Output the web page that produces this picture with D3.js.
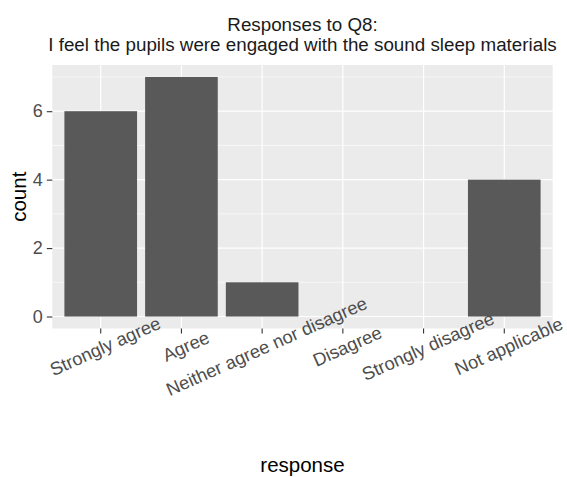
<!DOCTYPE html>
<html>
<head>
<meta charset="utf-8">
<script src="https://cdn.jsdelivr.net/npm/d3@7"></script>
<style>
  html, body { margin: 0; padding: 0; background: #fff; }
  svg { display: block; font-family: "Liberation Sans", Arial, sans-serif; }
</style>
</head>
<body>
<svg id="chart" width="567" height="477"></svg>
<script>
const categories = ["Strongly agree", "Agree", "Neither agree nor disagree", "Disagree", "Strongly disagree", "Not applicable"];
const counts = [6, 7, 1, 0, 0, 4];
const yTicks = [0, 2, 4, 6];
const yMinor = [1, 3, 5, 7];
const titleLines = ["Responses to Q8:", "I feel the pupils were engaged with the sound sleep materials"];
const xTitle = "response";
const yTitle = "count";

const svg = d3.select("#chart");
const panel = { left: 52.3, right: 552.7, top: 65, bottom: 328.5 };

// discrete scale with ggplot-style 0.6 expansion
const n = categories.length;
const x = d3.scaleLinear().domain([1 - 0.6, n + 0.6]).range([panel.left, panel.right]);
const ymax = d3.max(counts);
const y = d3.scaleLinear().domain([-0.05 * ymax, ymax * 1.05]).range([panel.bottom, panel.top]);
const xPos = c => x(categories.indexOf(c) + 1);

// panel background
svg.append("rect")
  .attr("x", panel.left).attr("y", panel.top)
  .attr("width", panel.right - panel.left).attr("height", panel.bottom - panel.top)
  .attr("fill", "#EBEBEB");

// minor grid
svg.append("g").selectAll("line").data(yMinor).join("line")
  .attr("x1", panel.left).attr("x2", panel.right)
  .attr("y1", d => y(d)).attr("y2", d => y(d))
  .attr("stroke", "#fff").attr("stroke-width", 0.6);

// major grid
svg.append("g").selectAll("line").data(yTicks).join("line")
  .attr("x1", panel.left).attr("x2", panel.right)
  .attr("y1", d => y(d)).attr("y2", d => y(d))
  .attr("stroke", "#fff").attr("stroke-width", 1.2);
svg.append("g").selectAll("line").data(categories).join("line")
  .attr("x1", d => xPos(d)).attr("x2", d => xPos(d))
  .attr("y1", panel.top).attr("y2", panel.bottom)
  .attr("stroke", "#fff").attr("stroke-width", 1.2);

// bars
const bw = (x(2) - x(1)) * 0.9;
svg.append("g").selectAll("rect").data(categories.map((c, i) => ({ c, v: counts[i] })).filter(d => d.v > 0)).join("rect")
  .attr("x", d => xPos(d.c) - bw / 2)
  .attr("width", bw)
  .attr("y", d => y(d.v))
  .attr("height", d => y(0) - y(d.v))
  .attr("fill", "#595959");

// y axis
const yAxis = d3.axisLeft(y).tickValues(yTicks).tickSize(5.5).tickPadding(4).tickFormat(d3.format("d"));
const gy = svg.append("g").attr("transform", `translate(${panel.left},0)`).call(yAxis);
gy.select(".domain").remove();
gy.selectAll(".tick line").attr("stroke", "#333").attr("stroke-width", 1.1);
gy.selectAll(".tick text").attr("fill", "#4D4D4D").attr("font-size", 18).attr("font-family", "Liberation Sans, Arial, sans-serif");

// x axis
const xb = d3.scaleBand().domain(categories).range([x(0.5), x(n + 0.5)]);
const xAxis = d3.axisBottom(xb).tickSize(5).tickSizeOuter(0);
const gx = svg.append("g").attr("transform", `translate(0,${panel.bottom})`).call(xAxis);
gx.select(".domain").remove();
gx.selectAll(".tick line").attr("stroke", "#333").attr("stroke-width", 1.1);
gx.selectAll(".tick text")
  .attr("fill", "#4D4D4D").attr("font-size", 18.3).attr("font-family", "Liberation Sans, Arial, sans-serif")
  .attr("text-anchor", "middle")
  .attr("dy", null)
  .attr("y", 0)
  .attr("transform", "translate(7,23.5) rotate(-24)");

// title
svg.append("text")
  .attr("x", (panel.left + panel.right) / 2).attr("y", 30.5)
  .attr("text-anchor", "middle").attr("font-size", 18.8).attr("fill", "#1a1a1a")
  .text(titleLines[0]);
svg.append("text")
  .attr("x", (panel.left + panel.right) / 2).attr("y", 51)
  .attr("text-anchor", "middle").attr("font-size", 18.8).attr("fill", "#1a1a1a")
  .text(titleLines[1]);

// axis titles
svg.append("text")
  .attr("x", (panel.left + panel.right) / 2).attr("y", 472)
  .attr("text-anchor", "middle").attr("font-size", 20.5).attr("fill", "#000")
  .text(xTitle);
svg.append("text")
  .attr("transform", `translate(26,${(panel.top + panel.bottom) / 2}) rotate(-90)`)
  .attr("text-anchor", "middle").attr("font-size", 20.5).attr("fill", "#000")
  .text(yTitle);
</script>
</body>
</html>
